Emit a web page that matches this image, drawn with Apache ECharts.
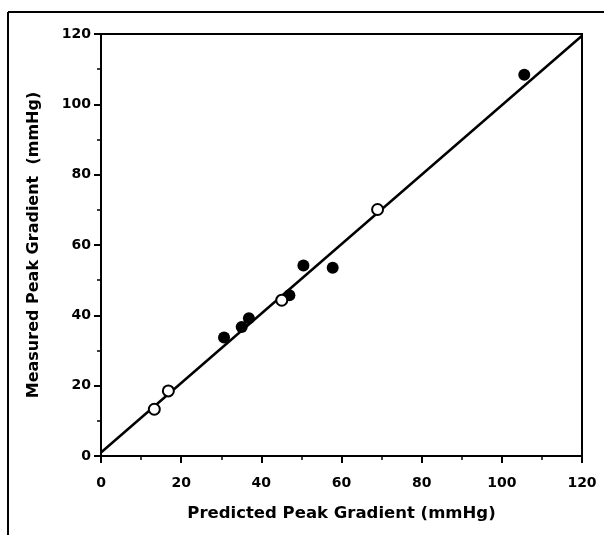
<!DOCTYPE html>
<html>
<head>
<meta charset="utf-8">
<script src="https://cdn.jsdelivr.net/npm/echarts@6/dist/echarts.min.js"></script>
<style>html,body{margin:0;padding:0;background:#fff}#c{width:604px;height:535px}</style>
</head>
<body>
<div id="c"></div>
<script>
// Data
const filledPoints = [[30.7,33.7],[35.1,36.7],[36.9,39.2],[47.0,45.7],[50.5,54.2],[57.8,53.5],[105.6,108.4]];
const openPoints = [[13.3,13.3],[16.8,18.5],[45.1,44.3],[69.0,70.1]];
const fitLine = [[0,1.0],[120,119.5]];
const xTitle = "Predicted Peak Gradient (mmHg)";
const yTitle = "Measured Peak Gradient  (mmHg)";

const chart = echarts.init(document.getElementById('c'), null, {renderer:'canvas'});
const font = "'DejaVu Sans', sans-serif";
const axisCommon = {
  type:'value', min:0, max:120, interval:20,
  axisLine:{show:true, onZero:false, lineStyle:{color:'#000', width:2}},
  axisTick:{show:true, inside:false, length:7, lineStyle:{color:'#000', width:2}},
  minorTick:{show:true, splitNumber:2, length:4, lineStyle:{color:'#000', width:1.5}},
  splitLine:{show:false},
  axisLabel:{color:'#000', fontSize:14, fontWeight:'bold', fontFamily:font},
  nameLocation:'middle',
  nameTextStyle:{color:'#000', fontSize:16.5, fontWeight:'bold', fontFamily:font}
};
chart.setOption({
  animation:false,
  backgroundColor:'#fff',
  grid:{left:101, right:22, top:34, bottom:79, show:true, borderColor:'#000', borderWidth:2, backgroundColor:'transparent'},
  xAxis:Object.assign({}, axisCommon, {name:xTitle, nameGap:49, axisLabel:Object.assign({}, axisCommon.axisLabel, {margin:20})}),
  yAxis:Object.assign({}, axisCommon, {name:yTitle, nameGap:59,
    nameTextStyle:Object.assign({}, axisCommon.nameTextStyle, {fontSize:16}),
    axisLabel:Object.assign({}, axisCommon.axisLabel, {margin:10})}),
  graphic:[
    {type:'line', shape:{x1:8, y1:12, x2:8, y2:535}, style:{stroke:'#000', lineWidth:2}},
    {type:'line', shape:{x1:8, y1:12, x2:604, y2:12}, style:{stroke:'#000', lineWidth:2}}
  ],
  series:[
    {type:'line', data:fitLine, showSymbol:false, symbol:'none', lineStyle:{color:'#000', width:2.5}, z:2},
    {type:'scatter', data:filledPoints, symbol:'circle', symbolSize:12, itemStyle:{color:'#000', opacity:1}, z:3},
    {type:'scatter', data:openPoints, symbol:'circle', symbolSize:11, itemStyle:{color:'#fff', borderColor:'#000', borderWidth:2, opacity:1}, z:3}
  ]
});
</script>
</body>
</html>
